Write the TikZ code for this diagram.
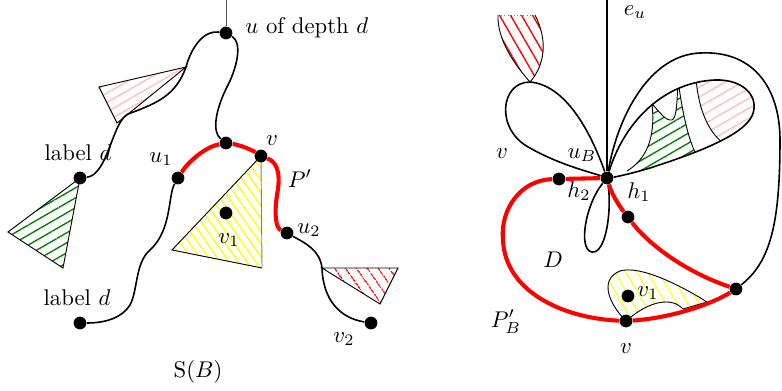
\documentclass[tikz,border=0pt]{standalone}
\usepackage{amsmath,amssymb}
\usepackage{tikz}
\usetikzlibrary{patterns.meta}

\begin{document}
\begin{tikzpicture}[
  x=0.44pt, y=-0.44pt,
  dot/.style={circle, fill=black, inner sep=0pt, minimum size=5.6pt},
  lbl/.style={inner sep=0pt, anchor=base},
  curve/.style={line width=0.7pt},
  redpath/.style={red, line width=1.8pt},
  rim/.style={line width=0.4pt},
  hatch/.style args={#1/#2}{pattern={Lines[angle=#1,distance=#2,line width=0.6pt]}}
]
\useasboundingbox (0,0) rectangle (782,391);

% left: hatched pieces
\draw[rim, hatch=30/3.6pt, pattern color=pink] (186,67) -- (99,87) -- (117,123) -- cycle;
\draw[rim, hatch=30/3.8pt, pattern color=green!50!black] (80,178) -- (8,232) -- (63,268) -- cycle;
\fill[hatch=-55/3.2pt, pattern color=yellow] (261,156) -- (172,250) -- (262,268) -- cycle;
\draw[rim] (261,156) -- (172,250) -- (262,268);
\draw[rim, gray] (262,268) -- (261,156);
\draw[rim, hatch=-55/4pt, pattern color=red] (322,268) -- (398,268) -- (380,304) -- cycle;

% right: hatched pieces
\fill[hatch=-60/4.2pt, pattern color=red] (530,82) .. controls (515,65) and (497,40) .. (498,15)
  -- (535,15) .. controls (548,40) and (545,65) .. (530,82);
\draw[rim] (535,15) .. controls (548,40) and (545,65) .. (530,82) .. controls (515,65) and (497,40) .. (498,15);
\draw[rim, densely dotted, gray] (498,15) -- (535,15);
\begin{scope}
  \clip (607,178) .. controls (625,120) and (665,82) .. (715,80) .. controls (745,79) and (760,98) .. (752,116)
    .. controls (742,137) and (690,155) .. (650,168) .. controls (630,174) and (615,177) .. (607,178);
  \fill[hatch=30/3.8pt, pattern color=green!50!black] (618,182) -- (627,171) .. controls (645,160) and (656,140) .. (652,104)
    .. controls (660,112) and (665,121) .. (672,120) .. controls (677,118) and (677,100) .. (678,80)
    .. controls (682,110) and (688,140) .. (697,156) -- (700,175) -- cycle;
  \draw[rim] (627,171) .. controls (645,160) and (656,140) .. (652,104)
    .. controls (660,112) and (665,121) .. (672,120) .. controls (677,118) and (677,100) .. (678,80)
    .. controls (682,110) and (688,140) .. (697,156);
  \fill[hatch=30/3.8pt, pattern color=pink] (694,70) -- (696,82) .. controls (698,105) and (706,130) .. (724,144)
    -- (740,160) -- (770,160) -- (770,70) -- cycle;
  \draw[rim] (696,78) .. controls (698,105) and (706,130) .. (724,144);
\end{scope}
\draw[rim, hatch=-60/4pt, pattern color=yellow] (626,321) .. controls (610,305) and (598,280) .. (620,271)
  .. controls (640,265) and (680,285) .. (707,302) -- (683,309) .. controls (672,297) and (650,300) .. (626,321);

% left: vertices and labels
\coordinate (top1) at (226,0);
\coordinate (pinkA) at (186,67);
\coordinate (redA) at (322,268);
\node[dot] (u) at (226,33) {};
\node[inner sep=0pt, anchor=base west] (ulab) at (245,33) {$u$ of depth $d$};
\node[dot] (ld1) at (80,178) {};
\node[lbl] (ld1lab) at (78,160) {label $d$};
\node[dot] (m) at (226,143) {};
\node[dot] (u1) at (178,178) {};
\node[lbl] (u1lab) at (161,162) {$u_1$};
\node[dot] (v) at (261,156) {};
\node[lbl] (vlab) at (272,145) {$v$};
\node[lbl] (plab) at (300,187) {$P'$};
\node[dot] (u2) at (287,233) {};
\node[lbl] (u2lab) at (309,233) {$u_2$};
\node[dot] (v1) at (226,213) {};
\node[lbl] (v1lab) at (229,243) {$v_1$};
\node[dot] (ld2) at (80,323) {};
\node[lbl] (ld2lab) at (77,305) {label $d$};
\node[dot] (v2) at (371,323) {};
\node[lbl] (v2lab) at (344,342) {$v_2$};
\node[lbl] (sblab) at (198,377) {$\mathrm{S}(B)$};

% right: vertices and labels
\coordinate (top2) at (607,0);
\coordinate (leafA) at (530,82);
\node[dot] (uB) at (607,178) {};
\node[lbl] (eulab) at (635,15) {$e_u$};
\node[lbl] (uBlab) at (582,158) {$u_B$};
\node[lbl] (vleft) at (502,158) {$v$};
\node[dot] (hh2) at (559,179) {};
\node[lbl] (h2lab) at (579,197) {$h_2$};
\node[dot] (hh1) at (628,217) {};
\node[lbl] (h1lab) at (639,198) {$h_1$};
\node[dot] (corner) at (736,289) {};
\node[dot] (vB) at (626,321) {};
\node[lbl] (vBlab) at (626,353) {$v$};
\node[dot] (v1B) at (628,296) {};
\node[lbl] (v1Blab) at (648,296) {$v_1$};
\node[lbl] (dlab) at (553,267) {$D$};
\node[lbl] (pblab) at (506,327) {$P'_B$};

% left: paths
\draw[rim, black!70] (top1) -- (u);
\draw[curve] (u) .. controls (205,30) and (192,45) .. (pinkA) .. controls (176,95) and (158,103) .. (128,114)
  .. controls (112,122) and (108,175) .. (ld1);
\draw[curve] (u) .. controls (242,42) and (238,65) .. (228,85) .. controls (215,110) and (212,132) .. (m);
\draw[curve] (u1) .. controls (168,195) and (172,230) .. (150,250) .. controls (135,263) and (138,290) .. (130,305)
  .. controls (122,318) and (105,323) .. (ld2);
\draw[curve] (u2) .. controls (305,243) and (320,250) .. (redA) .. controls (323,300) and (340,318) .. (v2);
\draw[redpath] (u1) .. controls (188,162) and (205,147) .. (m);
\draw[redpath] (m) .. controls (240,145) and (252,150) .. (v);
\draw[redpath] (v) .. controls (280,163) and (280,180) .. (277,195) .. controls (274,215) and (276,228) .. (u2);

% right: paths
\draw[line width=0.6pt] (top2) -- (uB);
\draw[curve] (uB) .. controls (590,130) and (565,85) .. (leafA) .. controls (500,82) and (495,130) .. (530,148)
  .. controls (560,165) and (590,172) .. (uB);
\draw[curve] (uB) .. controls (618,115) and (650,55) .. (700,53) .. controls (755,50) and (780,90) .. (780,140)
  .. controls (780,225) and (770,262) .. (corner);
\draw[curve] (uB) .. controls (625,120) and (665,82) .. (715,80) .. controls (745,79) and (760,98) .. (752,116)
  .. controls (742,137) and (690,155) .. (650,168) .. controls (630,174) and (615,177) .. (uB);
\draw[curve] (uB) .. controls (585,205) and (578,250) .. (592,252) .. controls (606,254) and (612,210) .. (uB);
\draw[redpath] (uB) -- (hh2);
\draw[redpath] (hh2) .. controls (520,180) and (500,210) .. (503,240) .. controls (505,290) and (560,318) .. (vB);
\draw[redpath] (uB) .. controls (612,195) and (620,207) .. (hh1);
\draw[redpath] (hh1) .. controls (645,240) and (680,270) .. (corner);
\draw[redpath] (corner) .. controls (710,305) and (670,318) .. (vB);
\end{tikzpicture}
\end{document}
